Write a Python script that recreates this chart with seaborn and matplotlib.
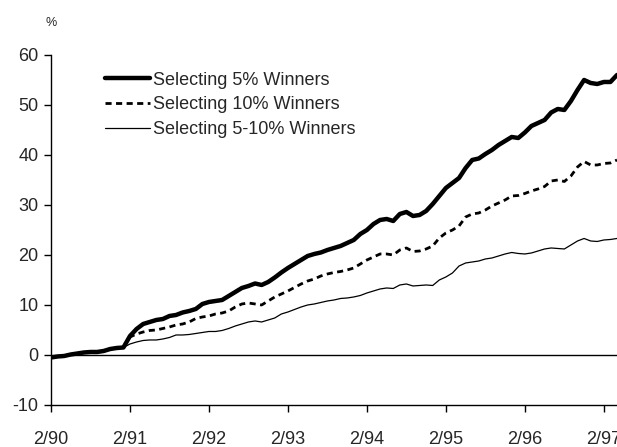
import numpy as np
import pandas as pd
import seaborn as sns
import matplotlib.pyplot as plt

sns.set_style("ticks")
plt.rcParams['font.family'] = ['Liberation Sans', 'DejaVu Sans']
plt.rcParams['axes.unicode_minus'] = False

# cumulative excess return (%), monthly from 2/90
start = [-0.5, -0.3, -0.2, 0.1, 0.3, 0.5, 0.6, 0.6, 0.8, 1.2, 1.4, 1.5]

win5 = start + [3.8, 5.2, 6.2, 6.6, 7.0, 7.2, 7.8, 8.0, 8.5, 8.8, 9.2, 10.2,
                10.6, 10.8, 11.0, 11.8, 12.6, 13.4, 13.8, 14.3, 14.0, 14.6, 15.5, 16.5,
                17.4, 18.2, 19.0, 19.8, 20.2, 20.5, 21.0, 21.4, 21.8, 22.4, 23.0, 24.2,
                25.0, 26.2, 27.0, 27.2, 26.8, 28.2, 28.6, 27.8, 28.0, 28.8, 30.2, 31.8,
                33.4, 34.4, 35.4, 37.4, 39.0, 39.3, 40.2, 41.0, 42.0, 42.8, 43.6, 43.4,
                44.5, 45.8, 46.4, 47.0, 48.5, 49.2, 49.0, 50.8, 53.0, 55.0, 54.4, 54.2,
                54.6, 54.6, 56.0]

win10 = start + [3.6, 4.2, 4.6, 4.9, 5.0, 5.3, 5.6, 6.0, 6.2, 6.6, 7.3, 7.6,
                 7.8, 8.2, 8.4, 8.8, 9.6, 10.2, 10.4, 10.2, 10.0, 10.8, 11.6, 12.2,
                 12.8, 13.5, 14.2, 14.8, 15.2, 15.8, 16.2, 16.5, 16.7, 17.0, 17.4, 18.2,
                 19.0, 19.6, 20.2, 20.2, 20.0, 21.0, 21.4, 20.7, 20.8, 21.2, 21.8, 23.4,
                 24.4, 25.0, 25.8, 27.6, 28.2, 28.4, 29.0, 29.8, 30.4, 31.0, 31.8, 31.9,
                 32.3, 32.8, 33.2, 33.7, 34.8, 35.0, 34.7, 35.8, 37.6, 38.7, 38.0, 38.0,
                 38.3, 38.4, 39.0]

win5_10 = start + [2.2, 2.6, 2.9, 3.0, 3.0, 3.2, 3.5, 4.0, 4.0, 4.1, 4.3, 4.5,
                   4.7, 4.7, 4.9, 5.3, 5.8, 6.2, 6.6, 6.8, 6.6, 7.0, 7.4, 8.2,
                   8.6, 9.1, 9.6, 10.0, 10.2, 10.5, 10.8, 11.0, 11.3, 11.4, 11.6, 11.9,
                   12.4, 12.8, 13.2, 13.4, 13.3, 14.0, 14.2, 13.8, 13.9, 14.0, 13.9, 15.0,
                   15.6, 16.4, 17.8, 18.4, 18.6, 18.8, 19.2, 19.4, 19.8, 20.2, 20.5, 20.3,
                   20.2, 20.4, 20.8, 21.2, 21.4, 21.3, 21.2, 22.0, 22.8, 23.3, 22.8, 22.7,
                   23.0, 23.1, 23.3]

months = np.arange(len(win5))
tick_labels = ["2/90", "2/91", "2/92", "2/93", "2/94", "2/95", "2/96", "2/97"]

df = pd.DataFrame({"month": months, "w5": win5, "w10": win10, "w5_10": win5_10})

fig = plt.figure(figsize=(6.17, 4.47), dpi=100)
ax = fig.add_axes([0.0827, 0.094, 0.9173, 0.783])

ax.axhline(0, color="black", lw=1.0, zorder=1)
sns.lineplot(data=df, x="month", y="w5", ax=ax, color="black", lw=3.2,
             label="Selecting 5% Winners")
sns.lineplot(data=df, x="month", y="w10", ax=ax, color="black", lw=2.0,
             label="Selecting 10% Winners", dashes=False)
ax.lines[-1].set_dashes((2.2, 1.6))
sns.lineplot(data=df, x="month", y="w5_10", ax=ax, color="black", lw=0.9,
             label="Selecting 5-10% Winners")

ax.set_xlim(0, 86)
ax.set_ylim(-10, 60)
ax.set_yticks(range(-10, 61, 10))
ax.set_xticks(range(0, 85, 12))
ax.set_xticklabels(tick_labels)
ax.set_xlabel("")
ax.set_ylabel("")
ax.tick_params(axis="both", labelsize=13, color="black", width=1.0, length=5)
ax.tick_params(axis="x", pad=14)
ax.tick_params(axis="y", pad=4)
sns.despine(ax=ax)
for s in ["left", "bottom"]:
    ax.spines[s].set_linewidth(1.0)
    ax.spines[s].set_color("black")

ax.text(0.0, 1.09, "%", transform=ax.transAxes, fontsize=9, ha="center", va="center")

leg = ax.legend(loc="upper left", bbox_to_anchor=(0.095, 0.952), frameon=False,
                fontsize=13, handlelength=2.5, handletextpad=0.15,
                labelspacing=0.42, borderpad=0, borderaxespad=0)

fig.savefig("out.png", dpi=100)
